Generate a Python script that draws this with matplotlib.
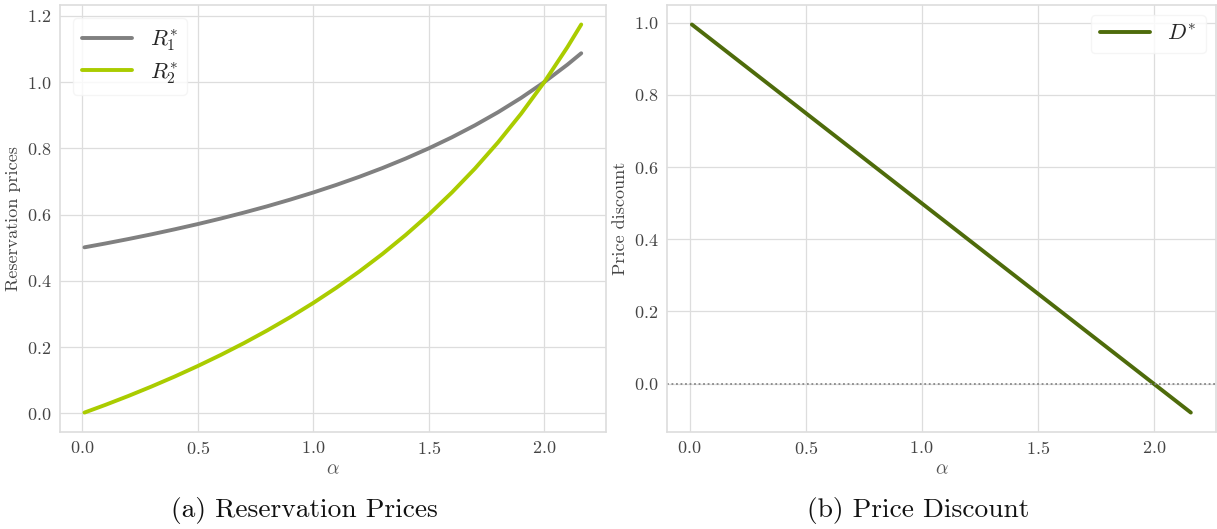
import matplotlib
matplotlib.use("Agg")
import matplotlib.pyplot as plt
import seaborn as sns

alpha = [0.01, 0.1, 0.2, 0.3, 0.4, 0.5, 0.6, 0.7, 0.8, 0.9, 1.0, 1.1, 1.2,
         1.3, 1.4, 1.5, 1.6, 1.7, 1.8, 1.9, 2.0, 2.1, 2.16]
R1 = [0.5013, 0.5128, 0.5263, 0.5405, 0.5556, 0.5714, 0.5882, 0.6061, 0.625,
      0.6452, 0.6667, 0.6897, 0.7143, 0.7407, 0.7692, 0.8, 0.8333, 0.8696,
      0.9091, 0.9524, 1.0, 1.0526, 1.0870]
R2 = [0.0025, 0.0256, 0.0526, 0.0811, 0.1111, 0.1429, 0.1765, 0.2121, 0.25,
      0.2903, 0.3333, 0.3793, 0.4286, 0.4815, 0.5385, 0.6, 0.6667, 0.7391,
      0.8182, 0.9048, 1.0, 1.1053, 1.1739]
D = [0.995, 0.95, 0.90, 0.85, 0.80, 0.75, 0.70, 0.65, 0.60, 0.55, 0.50, 0.45,
     0.40, 0.35, 0.30, 0.25, 0.20, 0.15, 0.10, 0.05, 0.0, -0.05, -0.08]

sns.set_style("whitegrid")
plt.rcParams["font.family"] = "serif"
plt.rcParams["font.serif"] = ["cmr10", "DejaVu Serif"]
plt.rcParams["mathtext.fontset"] = "cm"
plt.rcParams["axes.formatter.use_mathtext"] = True
plt.rcParams["axes.unicode_minus"] = False

fig = plt.figure(figsize=(12.17, 5.29), dpi=100)
ax1 = fig.add_axes([0.049, 0.1834, 0.449, 0.807])
ax2 = fig.add_axes([0.548, 0.1834, 0.451, 0.807])

grid_c = "#dddddd"
spine_c = "#dddddd"
for ax in (ax1, ax2):
    ax.grid(True, color=grid_c, linewidth=0.9)
    for s in ax.spines.values():
        s.set_color(spine_c)
        s.set_linewidth(1.2)
    ax.tick_params(labelsize=13, colors="#444444", length=0, pad=6)
    ax.set_xlabel(r"$\alpha$", fontsize=14, color="#555555", labelpad=2)

ax1.plot(alpha, R1, color="#808080", lw=2.8, label=r"$R_1^{*}$", solid_capstyle="round")
ax1.plot(alpha, R2, color="#aacc00", lw=2.8, label=r"$R_2^{*}$", solid_capstyle="round")
ax1.set_ylabel("Reservation prices", fontsize=13, color="#444444", labelpad=4)
ax1.set_xticks([0.0, 0.5, 1.0, 1.5, 2.0])
ax1.set_yticks([0.0, 0.2, 0.4, 0.6, 0.8, 1.0, 1.2])
leg_kw = dict(fontsize=16, frameon=True, handlelength=2.25, handletextpad=0.8,
              labelspacing=0.3, borderpad=0.4)
leg1 = ax1.legend(loc="upper left", borderaxespad=0.6, **leg_kw)
leg1.get_frame().set_edgecolor("#f3f3f3")

ax2.plot(alpha, D, color="#4e6b0b", lw=2.8, label=r"$D^{*}$", solid_capstyle="round")
ax2.axhline(0.0, color="#888888", lw=1.3, ls=(0, (1, 1.5)))
ax2.set_ylabel("Price discount", fontsize=13, color="#444444", labelpad=4)
ax2.set_xticks([0.0, 0.5, 1.0, 1.5, 2.0])
ax2.set_yticks([0.0, 0.2, 0.4, 0.6, 0.8, 1.0])
leg2 = ax2.legend(loc="upper right", borderaxespad=0.45, **leg_kw)
leg2.get_frame().set_edgecolor("#f3f3f3")

fig.text(0.250, 0.035, "(a) Reservation Prices", ha="center", va="center",
         fontsize=19.75, color="#111111")
fig.text(0.7545, 0.035, "(b) Price Discount", ha="center", va="center",
         fontsize=19.75, color="#111111")

fig.savefig("out.png", dpi=100)
